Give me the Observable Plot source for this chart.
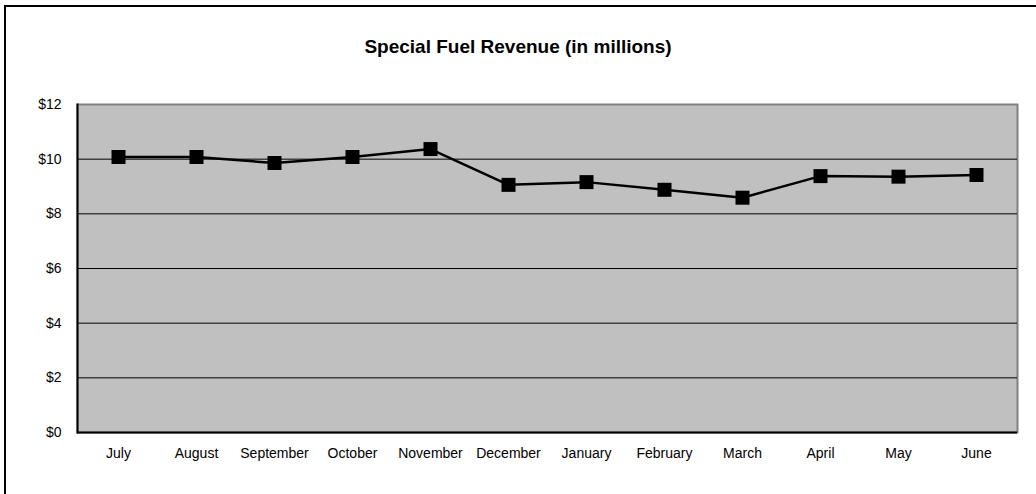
<!DOCTYPE html>
<html>
<head>
<meta charset="utf-8">
<script src="https://cdn.jsdelivr.net/npm/d3@7"></script>
<script src="https://cdn.jsdelivr.net/npm/@observablehq/plot@0.6"></script>
<style>
  html, body { margin: 0; padding: 0; background: #fff; }
  #wrap { position: relative; width: 1036px; height: 494px; overflow: hidden; font-family: "Liberation Sans", Arial, sans-serif; }
  #border { position: absolute; left: 4px; top: 5px; width: 1100px; height: 600px; border: 2px solid #000; box-sizing: border-box; pointer-events: none; }
  #title { position: absolute; left: 0; width: 1036px; top: 36px; line-height: 22px; text-align: center; font-weight: bold; font-size: 19px; color: #000; }
  #chart { position: absolute; left: 0; top: 0; }
</style>
</head>
<body>
<div id="wrap">
  <div id="chart"></div>
  <div id="border"></div>
  <div id="title">Special Fuel Revenue (in millions)</div>
</div>
<script>
const months = ["July","August","September","October","November","December","January","February","March","April","May","June"];
const revenue = [10.08, 10.08, 9.86, 10.08, 10.37, 9.06, 9.16, 8.88, 8.59, 9.38, 9.36, 9.42];
const yTicks = [0, 2, 4, 6, 8, 10, 12];
const gridValues = [2, 4, 6, 8, 10];

const data = months.map((m, i) => ({month: m, value: revenue[i]}));

const chart = Plot.plot({
  width: 1036,
  height: 494,
  marginLeft: 77,
  marginRight: 19,
  marginTop: 104,
  marginBottom: 62,
  style: {fontFamily: "'Liberation Sans', Arial, sans-serif", fontSize: "14px", background: "transparent", color: "#000"},
  x: {type: "point", domain: months, padding: 0.5, label: null},
  y: {domain: [0, 12], label: null},
  marks: [
    Plot.frame({fill: "#c0c0c0", stroke: "#808080", strokeWidth: 2}),
    Plot.ruleY(gridValues, {stroke: "#000", strokeWidth: 1}),
    Plot.ruleY([0], {stroke: "#000", strokeWidth: 2}),
    Plot.frame({anchor: "left", stroke: "#000", strokeWidth: 2}),
    Plot.axisY({ticks: yTicks, tickSize: 0, tickPadding: 16, tickFormat: d => "$" + d, fontSize: 14, label: null}),
    Plot.axisX({tickSize: 0, tickPadding: 16, fontSize: 14, label: null}),
    Plot.line(data, {x: "month", y: "value", stroke: "#000", strokeWidth: 2.5}),
    Plot.dot(data, {x: "month", y: "value", symbol: "square", r: 7.9, fill: "#000", stroke: "none"})
  ]
});
document.getElementById("chart").appendChild(chart);
</script>
</body>
</html>
